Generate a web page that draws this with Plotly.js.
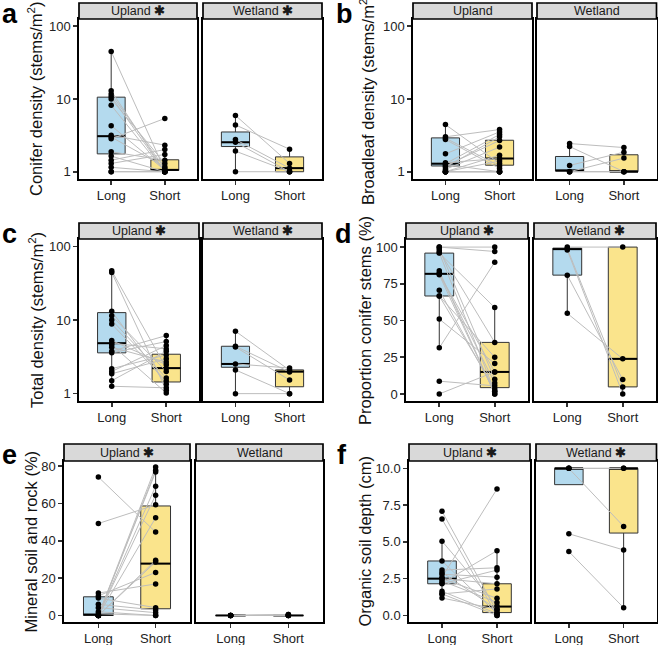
<!DOCTYPE html>
<html>
<head>
<meta charset="utf-8">
<script src="https://cdn.plot.ly/plotly-3.0.1.min.js"></script>
<style>body{margin:0;background:#fff}#chart{width:658px;height:645px}</style>
</head>
<body>
<div id="chart"></div>
<script>
const groups = ['Long', 'Short'];

// a: conifer density (paired sites, Long then Short)
const aUpLong = [45, 13, 11.7, 10.8, 10, 8.2, 4.3, 3.18, 3.0, 2.83, 1.88, 1.64, 1.44, 1.3, 1.15, 1, 1];
const aUpShort = [1.05, 1, 1.11, 1, 1.3, 1, 1.05, 2.32, 1.17, 5.4, 1.44, 1, 2.02, 1.73, 1, 1, 1];
const aWetLong = [5.95, 4.4, 2.77, 2.54, 1.92, 1];
const aWetShort = [1.3, 2.04, 1.12, 1.0, 1.0, 1.0];
const aUpBox = {lo: [1, 1], q1: [1.76, 1.04], med: [3.08, 1.06], q3: [10.6, 1.46], hi: [45, 2.32]};
const aWetBox = {lo: [1, 1], q1: [2.22, 1], med: [2.54, 1.12], q3: [3.52, 1.6], hi: [5.95, 2.04]};

// b: broadleaf density
const bUpLong = [4.45, 3.02, 2.77, 2.9, 1.76, 1.33, 1.29, 1.26, 1.16, 1.08, 1.2, 1, 1, 1, 1, 1, 1];
const bUpShort = [1.3, 3.8, 1.11, 1.2, 3.53, 1.52, 3.25, 1, 3.02, 2.18, 2.69, 1.4, 1.69, 1, 1, 1, 1];
const bWetLong = [2.44, 2.22, 1.22, 1, 1, 1];
const bWetShort = [2.15, 1, 1.86, 1.54, 1, 1];
const bUpBox = {lo: [1, 1], q1: [1.2, 1.23], med: [1.29, 1.52], q3: [2.92, 2.71], hi: [4.45, 3.8]};
const bWetBox = {lo: [1, 1], q1: [1.02, 1], med: [1.04, 1], q3: [1.62, 1.71], hi: [2.44, 2.15]};

// c: total density
const cUpLong = [46.5, 44.3, 13.1, 11.4, 10, 8.8, 5.26, 4.84, 4.6, 4.27, 3.77, 3.58, 2.18, 2.0, 1.86, 1.5, 1.26];
const cUpShort = [2.22, 1.11, 1.34, 2.0, 1.63, 1.48, 2.47, 4.05, 1.02, 2.68, 6.15, 5.1, 3.36, 4.5, 2.97, 3.77, 1.2];
const cWetLong = [7.05, 4.4, 4.3, 2.53, 2.1, 1];
const cWetShort = [2.08, 1.97, 1.53, 2.23, 1.0, 1.0];
const cUpBox = {lo: [1.26, 1.02], q1: [3.58, 1.44], med: [4.84, 2.22], q3: [12.6, 3.43], hi: [46.5, 6.15]};
const cWetBox = {lo: [1, 1], q1: [2.28, 1.24], med: [2.53, 1.99], q3: [4.4, 2.1], hi: [7.05, 2.23]};

// d: proportion conifer stems (%)
const dUpLong = [100, 100, 98.9, 97.5, 96.1, 96, 83.8, 82.2, 81.8, 81.1, 70.6, 66.7, 66.7, 51, 31.4, 8.7, 0];
const dUpShort = [100, 97, 10, 35.1, 1.8, 58.8, 0, 7.5, 15, 0, 1.8, 3.6, 25, 20.7, 89.7, 5.5, 15];
const dWetLong = [100, 99, 98, 80.9, 54.9];
const dWetShort = [100, 4.8, 0, 9.8, 23.9];
const dUpBox = {lo: [31.4, 0], q1: [66.7, 4.3], med: [81.8, 15], q3: [95.9, 35.1], hi: [100, 58.8]};
const dWetBox = {lo: [54.9, 0], q1: [80.9, 4.8], med: [98.6, 23.9], q3: [99.3, 100], hi: [100, 100]};

// e: mineral soil and rock (%)
const eUpLong = [74.2, 49.3, 12, 10.5, 9.3, 6, 4.2, 2, 0.9, 0, 0, 0, 0, 0, 0, 0, 0];
const eUpShort = [44.7, 59.3, 16.9, 23.1, 4.2, 2.9, 1.5, 0, 0, 29.6, 28.7, 52.4, 64.5, 69.3, 76.9, 77.8, 79.6];
const eWetLong = [0, 0, 0, 0, 0, 0];
const eWetShort = [0, 0.5, 0, 0, 0, 0.5];
const eUpBox = {lo: [0, 0], q1: [0, 3.6], med: [0.5, 27.8], q3: [10, 58.7], hi: [12, 79.6]};
const eWetBox = {lo: [0, 0], q1: [0, 0], med: [0, 0], q3: [0, 0], hi: [0, 0]};

// f: organic soil depth (cm)
const fUpLong = [7.08, 6.55, 5.05, 3.7, 3.08, 2.92, 2.6, 2.5, 2.5, 2.34, 2.2, 2.15, 1.64, 1.46, 1.46, 1.18, 2.8];
const fUpShort = [0.25, 0, 0.63, 0.12, 3.24, 0.42, 8.6, 1.16, 2.15, 0.88, 4.4, 3.08, 0.12, 0, 1.8, 0.42, 2.6];
const fWetLong = [10, 10, 10, 5.55, 4.34];
const fWetShort = [10, 6.05, 10, 4.45, 0.52];
const fUpBox = {lo: [1.18, 0], q1: [2.15, 0.19], med: [2.5, 0.6], q3: [3.7, 2.15], hi: [5.05, 4.4]};
const fWetBox = {lo: [8.89, 0.52], q1: [8.89, 5.6], med: [10, 10], q3: [10, 10], hi: [10, 10]};

const logTicks = [1, 10, 100];
const pctTicks = [0, 25, 50, 75, 100];
const rockTicks = [0, 20, 40, 60, 80];
const depthTicks = [0, 2.5, 5, 7.5, 10];

const W = 658, H = 645;
const fills = ['#b4daee', '#fae48c'];
const fx = v => v / W;
const fy = v => 1 - v / H;

const panels = [
  {letter: 'a', title: 'Conifer density (stems/m<sup>2</sup>)', log: true, range: [-0.1, 2.1], ticks: logTicks, labels: ['1', '10', '100'],
   xU: [79, 197], xW: [203, 322], strip: [3, 19], plot: [19, 179], lx: 0, titleX: 35,
   up: [aUpLong, aUpShort], wet: [aWetLong, aWetShort], upBox: aUpBox, wetBox: aWetBox, stars: [true, true]},
  {letter: 'b', title: 'Broadleaf density (stems/m<sup>2</sup>)', log: true, range: [-0.1, 2.1], ticks: logTicks, labels: ['1', '10', '100'],
   xU: [413, 532], xW: [537, 656.5], strip: [3, 19], plot: [19, 179], lx: 334, titleX: 367,
   up: [bUpLong, bUpShort], wet: [bWetLong, bWetShort], upBox: bUpBox, wetBox: bWetBox, stars: [false, false]},
  {letter: 'c', title: 'Total density (stems/m<sup>2</sup>)', log: true, range: [-0.1, 2.1], ticks: logTicks, labels: ['1', '10', '100'],
   xU: [79, 199], xW: [203, 322], strip: [223, 239], plot: [239, 401], lx: 0, titleX: 36,
   up: [cUpLong, cUpShort], wet: [cWetLong, cWetShort], upBox: cUpBox, wetBox: cWetBox, stars: [true, true]},
  {letter: 'd', title: 'Proportion conifer stems (%)', log: false, range: [-4.8, 105.5], ticks: pctTicks, labels: pctTicks.map(String),
   xU: [406, 528], xW: [534, 656], strip: [223, 239], plot: [239, 401], lx: 333, titleX: 365,
   up: [dUpLong, dUpShort], wet: [dWetLong, dWetShort], upBox: dUpBox, wetBox: dWetBox, stars: [true, true]},
  {letter: 'e', title: 'Mineral soil and rock (%)', log: false, range: [-3.5, 82.8], ticks: rockTicks, labels: rockTicks.map(String),
   xU: [64, 190], xW: [196, 323], strip: [444, 461], plot: [461, 622], lx: 0, titleX: 30,
   up: [eUpLong, eUpShort], wet: [eWetLong, eWetShort], upBox: eUpBox, wetBox: eWetBox, stars: [true, false]},
  {letter: 'f', title: 'Organic soil depth (cm)', log: false, range: [-0.45, 10.5], ticks: depthTicks, labels: depthTicks.map(v => v.toFixed(1)),
   xU: [409, 530], xW: [536, 656.5], strip: [444, 461], plot: [461, 622], lx: 335, titleX: 364,
   up: [fUpLong, fUpShort], wet: [fWetLong, fWetShort], upBox: fUpBox, wetBox: fWetBox, stars: [true, true]}
];

const data = [], shapes = [], annotations = [];
const layout = {
  width: W, height: H,
  margin: {l: 0, r: 0, t: 0, b: 0},
  paper_bgcolor: 'white', plot_bgcolor: 'white',
  showlegend: false,
  font: {family: 'Liberation Sans, Arial, sans-serif', color: '#222', size: 13},
  shapes: shapes, annotations: annotations
};

const axisLine = {showline: true, mirror: true, linecolor: 'black', linewidth: 1.7, showgrid: false, zeroline: false, fixedrange: true};

panels.forEach((p, i) => {
  [p.xU, p.xW].forEach((xr, f) => {
    const n = i * 2 + f + 1;
    const sfx = n === 1 ? '' : String(n);
    const xid = 'x' + sfx, yid = 'y' + sfx;

    layout['xaxis' + sfx] = Object.assign({}, axisLine, {
      domain: [fx(xr[0]), fx(xr[1])], anchor: yid, range: [-0.6, 1.6],
      tickvals: [0, 1], ticktext: groups, ticks: 'outside', ticklen: 4, tickwidth: 1.6, tickcolor: '#333',
      tickfont: {size: 13, color: '#222'}
    });
    layout['yaxis' + sfx] = Object.assign({}, axisLine, {
      domain: [fy(p.plot[1]), fy(p.plot[0])], anchor: xid,
      type: p.log ? 'log' : 'linear', range: p.range,
      tickvals: p.ticks, ticktext: p.labels,
      showticklabels: f === 0, ticks: f === 0 ? 'outside' : '', ticklen: 4, tickwidth: 1.6, tickcolor: '#333',
      tickfont: {size: 13, color: '#222'}
    });

    const [lng, sht] = f === 0 ? p.up : p.wet;
    const box = f === 0 ? p.upBox : p.wetBox;

    groups.forEach((g, k) => {
      data.push({
        type: 'box', xaxis: xid, yaxis: yid, x: [k],
        q1: [box.q1[k]], median: [box.med[k]], q3: [box.q3[k]],
        lowerfence: [box.lo[k]], upperfence: [box.hi[k]],
        width: 0.52, fillcolor: fills[k], line: {color: '#333', width: 1},
        whiskerwidth: 0, boxpoints: false, hoverinfo: 'skip'
      });
    });

    // thick median bars
    data.push({
      type: 'scatter', mode: 'lines', xaxis: xid, yaxis: yid,
      x: [-0.26, 0.26, null, 0.74, 1.26],
      y: [box.med[0], box.med[0], null, box.med[1], box.med[1]],
      line: {color: 'black', width: 2}, hoverinfo: 'skip'
    });

    // paired sites
    const px = [], py = [];
    lng.forEach((v, j) => { px.push(0, 1, null); py.push(v, sht[j], null); });
    data.push({
      type: 'scatter', mode: 'lines+markers', xaxis: xid, yaxis: yid,
      x: px, y: py, connectgaps: false, cliponaxis: false,
      line: {color: '#bdbdbd', width: 1}, marker: {color: 'black', size: 5.5},
      hoverinfo: 'skip'
    });

    // strip
    shapes.push({
      type: 'rect', xref: 'paper', yref: 'paper',
      x0: fx(xr[0]), x1: fx(xr[1]), y0: fy(p.strip[1]), y1: fy(p.strip[0]),
      fillcolor: '#d9d9d9', line: {color: 'black', width: 1.7}, layer: 'above'
    });
    const name = f === 0 ? 'Upland' : 'Wetland';
    annotations.push({
      xref: 'paper', yref: 'paper', x: fx((xr[0] + xr[1]) / 2), y: fy((p.strip[0] + p.strip[1]) / 2),
      xanchor: 'center', yanchor: 'middle', showarrow: false,
      text: p.stars[f] ? name + ' <b>\u2731</b>' : name,
      font: {size: 12.5, color: '#1a1a1a'}
    });
  });

  // panel letter
  annotations.push({
    xref: 'paper', yref: 'paper', x: fx(p.lx), y: fy(p.strip[0] + 11),
    xanchor: 'left', yanchor: 'middle', showarrow: false,
    text: '<b>' + p.letter + '</b>', font: {size: 27, color: 'black'}
  });
  // y axis title
  annotations.push({
    xref: 'paper', yref: 'paper', x: fx(p.titleX), y: fy((p.plot[0] + p.plot[1]) / 2),
    xanchor: 'center', yanchor: 'middle', showarrow: false, textangle: -90,
    text: p.title, font: {size: 16.5, color: '#111'}
  });
});

Plotly.newPlot('chart', data, layout, {staticPlot: true});
</script>
</body>
</html>
